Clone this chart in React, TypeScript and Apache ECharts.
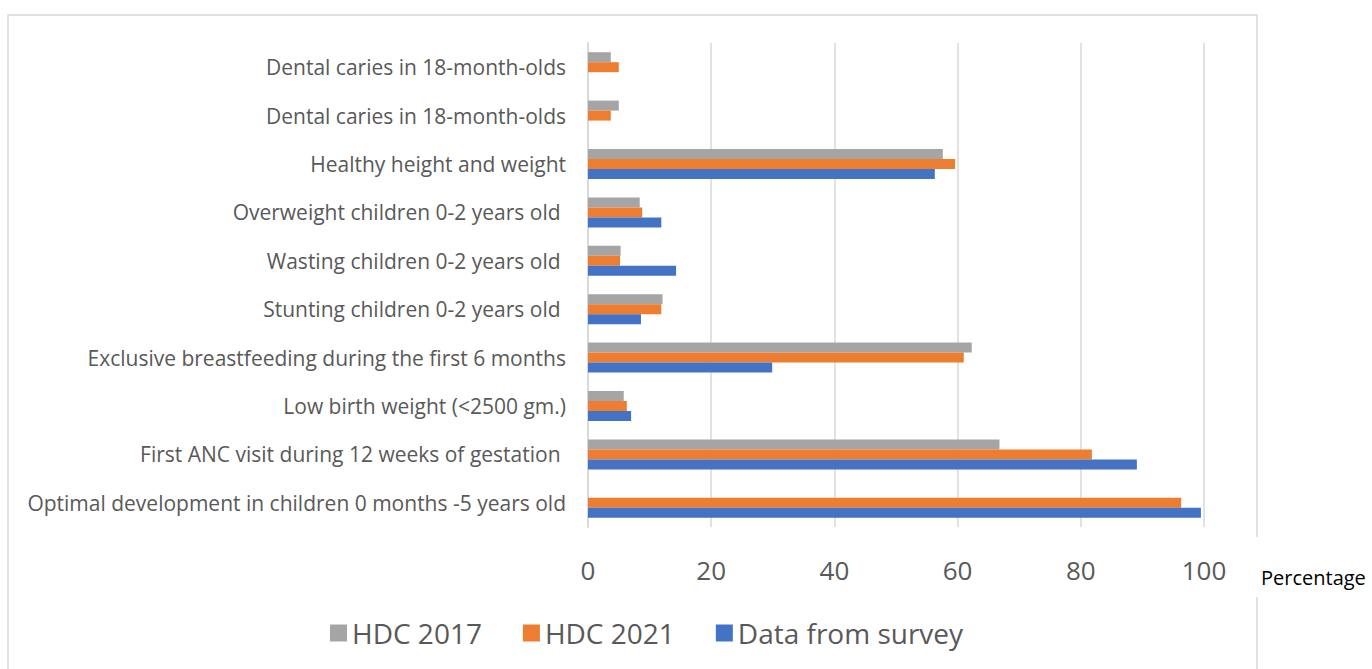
import React, { useEffect, useRef } from "react";
import * as echarts from "echarts";

const categories = [
  "Dental caries in 18-month-olds",
  "Dental caries in 18-month-olds",
  "Healthy height and weight",
  "Overweight children 0-2 years old ",
  "Wasting children 0-2 years old ",
  "Stunting children 0-2 years old ",
  "Exclusive breastfeeding during the first 6 months",
  "Low birth weight (<2500 gm.)",
  "First ANC visit during 12 weeks of gestation ",
  "Optimal development in children 0 months -5 years old",
];
const hdc2017 = [3.7, 5.0, 57.6, 8.4, 5.3, 12.1, 62.3, 5.8, 66.8, null];
const hdc2021 = [5.0, 3.7, 59.6, 8.8, 5.2, 11.9, 61.0, 6.3, 81.8, 96.3];
const survey = [null, null, 56.3, 11.9, 14.3, 8.6, 29.9, 7.0, 89.1, 99.5];
const seriesNames = ["HDC 2017", "HDC 2021", "Data from survey"];
const xTicks = [0, 20, 40, 60, 80, 100];

const FONT = "Open Sans";

export default function App() {
  const ref = useRef<HTMLDivElement>(null);
  useEffect(() => {
    const chart = echarts.init(ref.current!, null, { renderer: "svg" });
    const colors = ["#A5A5A5", "#ED7D31", "#4472C4"];
    const datas = [hdc2017, hdc2021, survey];
    chart.setOption({
      animation: false,
      backgroundColor: "#ffffff",
      grid: { left: 588, right: 1372 - 1204, top: 43, bottom: 669 - 527 },
      legend: {
        data: seriesNames,
        left: 325,
        top: 614,
        icon: "rect",
        itemWidth: 17,
        itemHeight: 17,
        itemGap: 41,
        textStyle: { fontFamily: FONT, fontSize: 28, color: "#595959" },
      },
      xAxis: {
        type: "value",
        min: xTicks[0],
        max: xTicks[xTicks.length - 1],
        interval: 20,
        axisLine: { show: false },
        axisTick: { show: false },
        splitLine: { lineStyle: { color: "#d9d9d9", width: 1.5 } },
        axisLabel: { fontFamily: FONT, fontSize: 26, color: "#595959", margin: 30 },
      },
      yAxis: {
        type: "category",
        inverse: true,
        data: categories.map((_, i) => String(i)),
        axisLine: { show: true, lineStyle: { color: "#d9d9d9", width: 2 } },
        axisTick: { show: false },
        axisLabel: {
          fontFamily: FONT,
          fontSize: 21,
          color: "#595959",
          margin: 22,
          formatter: (v: string) => categories[Number(v)],
        },
      },
      series: datas.map((d, i) => ({
        name: seriesNames[i],
        type: "bar",
        data: d,
        barWidth: 10,
        barGap: "0%",
        itemStyle: { color: colors[i] },
      })),
      graphic: [
        {
          type: "rect",
          z: -10,
          silent: true,
          shape: { x: 8, y: 15, width: 1249, height: 700 },
          style: { fill: "none", stroke: "#d9d9d9", lineWidth: 1.5 },
        },
        {
          type: "rect",
          z: -5,
          shape: { x: 1240, y: 537, width: 132, height: 60 },
          style: { fill: "#ffffff" },
        },
        {
          type: "text",
          x: 1261,
          y: 577,
          style: {
            text: "Percentage",
            fontFamily: FONT,
            fontSize: 20,
            fill: "#000000",
            verticalAlign: "middle",
          },
        },
      ],
    });
    return () => chart.dispose();
  }, []);
  return (
    <div
      ref={ref}
      style={{ position: "fixed", left: 0, top: 0, width: 1372, height: 669 }}
    />
  );
}
